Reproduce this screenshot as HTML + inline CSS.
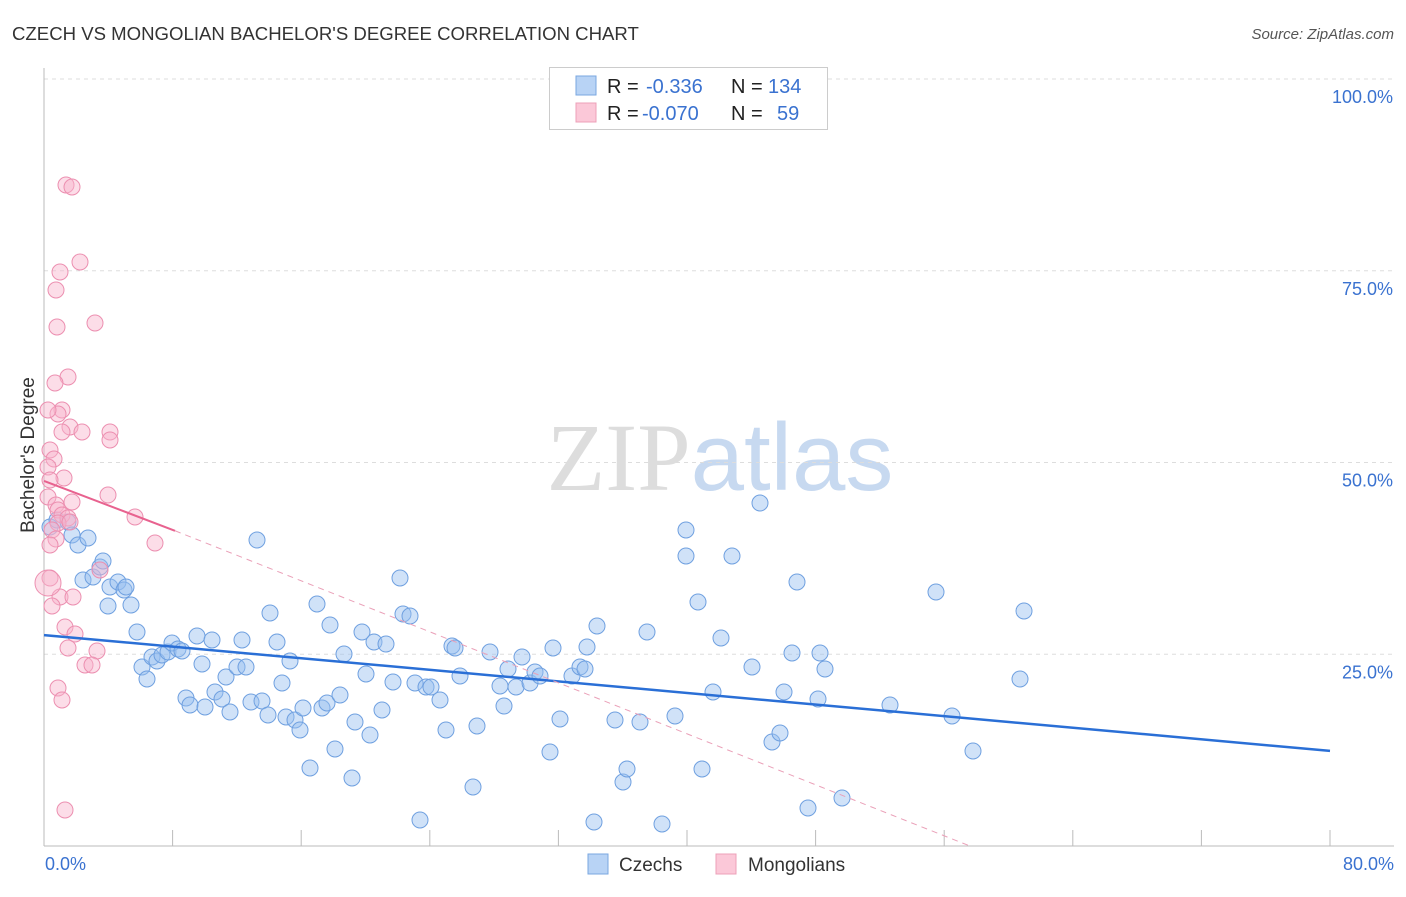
<!DOCTYPE html>
<html><head><meta charset="utf-8"><style>
body{margin:0;background:#fff;font-family:"Liberation Sans",sans-serif;}
svg text{font-family:"Liberation Sans",sans-serif;}
</style></head><body>
<svg id="chart" width="1406" height="892" xmlns="http://www.w3.org/2000/svg">
<text x="12" y="40" font-size="18.6" fill="#333">CZECH VS MONGOLIAN BACHELOR'S DEGREE CORRELATION CHART</text>
<text x="1394" y="39" font-size="15" fill="#555" text-anchor="end" font-style="italic">Source: ZipAtlas.com</text>
<text x="720" y="490" font-size="96" text-anchor="middle" fill="#ddd"><tspan style="font-family:'Liberation Serif',serif">ZIP</tspan><tspan fill="#c7d9f0">atlas</tspan></text>
<text transform="translate(34,455) rotate(-90)" font-size="19" fill="#333" text-anchor="middle">Bachelor's Degree</text>
<g id="grid"></g><g id="marks"></g>
<g>
<rect x="549.5" y="67.5" width="278" height="62" fill="#fff" stroke="#ccc"/>
<rect x="576" y="76" width="20" height="19" fill="#b8d3f5" stroke="#7aa7e0"/>
<rect x="576" y="103" width="20" height="19" fill="#fbc8d8" stroke="#eda0b8"/>
<text x="607" y="93" font-size="20" fill="#222">R = <tspan fill="#3a72d0" x="646">-0.336</tspan><tspan fill="#222" x="731">N =</tspan><tspan fill="#3a72d0" x="768">134</tspan></text>
<text x="607" y="120" font-size="20" fill="#222">R = <tspan fill="#3a72d0" x="642">-0.070</tspan><tspan fill="#222" x="731">N =</tspan><tspan fill="#3a72d0" x="777">59</tspan></text>
</g>
<g>
<rect x="588" y="854" width="20" height="20" fill="#b8d3f5" stroke="#7aa7e0"/>
<text x="619" y="871" font-size="19" fill="#333">Czechs</text>
<rect x="716" y="854" width="20" height="20" fill="#fbc8d8" stroke="#eda0b8"/>
<text x="748" y="871" font-size="19" fill="#333">Mongolians</text>
</g>
</svg>
<script>
const xTickLabels=["0.0%","80.0%"];
const yTicks=[25,50,75,100];
const yTickLabels=["25.0%","50.0%","75.0%","100.0%"];
const bluePx=[[50,527],[57,520],[68,522],[72,535],[78,545],[88,538],[83,580],[93,577],[100,567],[103,561],[110,587],[108,606],[118,582],[124,590],[126,587],[131,605],[137,632],[142,667],[147,679],[152,657],[157,661],[162,655],[168,652],[172,643],[178,649],[182,651],[186,698],[190,705],[197,636],[202,664],[205,707],[212,640],[215,692],[222,699],[226,677],[230,712],[237,667],[242,640],[246,667],[251,702],[257,540],[262,701],[268,715],[270,613],[277,642],[282,683],[286,717],[290,661],[295,720],[300,730],[303,708],[310,768],[317,604],[322,708],[327,703],[330,625],[335,749],[340,695],[344,654],[352,778],[355,722],[362,632],[366,674],[370,735],[374,642],[382,710],[386,644],[393,682],[400,578],[403,614],[410,616],[415,683],[420,820],[426,687],[431,687],[440,700],[446,730],[452,646],[455,648],[460,676],[473,787],[477,726],[490,652],[500,686],[504,706],[508,669],[516,687],[522,657],[530,683],[535,672],[540,676],[550,752],[553,648],[560,719],[572,676],[580,667],[585,669],[587,647],[594,822],[597,626],[615,720],[623,782],[627,769],[640,722],[647,632],[662,824],[675,716],[686,530],[686,556],[698,602],[702,769],[713,692],[721,638],[732,556],[752,667],[760,503],[772,742],[780,733],[784,692],[792,653],[797,582],[808,808],[818,699],[820,653],[825,669],[842,798],[890,705],[936,592],[952,716],[973,751],[1020,679],[1024,611]];
const pinkPx=[[66,185],[72,187],[80,262],[60,272],[56,290],[95,323],[57,327],[68,377],[55,383],[62,410],[58,414],[48,410],[70,427],[62,432],[82,432],[110,432],[110,440],[50,450],[54,459],[48,467],[64,478],[50,480],[108,495],[48,497],[72,502],[56,505],[58,510],[62,515],[68,518],[58,523],[135,517],[70,522],[52,530],[56,539],[155,543],[50,545],[100,570],[50,578],[60,597],[73,597],[52,606],[65,627],[75,634],[68,648],[97,651],[85,665],[92,665],[58,688],[62,700],[65,810],[48,583]];
const X0=44,X1=1330,Y0=846,Y100=79;
const toD=p=>[(p[0]-X0)/(X1-X0)*80,(Y0-p[1])/(Y0-Y100)*100];
const czechX=bluePx.map(p=>toD(p)[0]), czechY=bluePx.map(p=>toD(p)[1]);
const mongX=pinkPx.map(p=>toD(p)[0]), mongY=pinkPx.map(p=>toD(p)[1]);
const czechTrend=[27.5,12.4];
const mongTrend=[47.6,41.1,0];
const mongTrendX=[0,8.15,57.6];
const sx=v=>X0+v/80*(X1-X0), sy=v=>Y0-v/100*(Y0-Y100);
const NS="http://www.w3.org/2000/svg";
function mk(t,a,p){const e=document.createElementNS(NS,t);for(const k in a)e.setAttribute(k,a[k]);p.appendChild(e);return e;}
const g=document.getElementById('grid'), m=document.getElementById('marks');
yTicks.forEach((v,i)=>{
  const l=mk('line',{x1:44,x2:1394,y1:sy(v),y2:sy(v),stroke:'#ddd','stroke-dasharray':'4,4'},g);
  
  
  const t=mk('text',{x:1393,y:sy(v)+24,'font-size':18,fill:'#3a72d0','text-anchor':'end'},g);
  t.textContent=yTickLabels[i];
  
  
});
mk('line',{x1:44,x2:44,y1:68,y2:846,stroke:'#bbb'},g);
mk('line',{x1:44,x2:1394,y1:846,y2:846,stroke:'#bbb'},g);
for(let i=0;i<=10;i++){const x=sx(i*8);mk('line',{x1:x,x2:x,y1:830,y2:846,stroke:'#bbb'},g);}
[[0,'start',45],[80,'end',1394]].forEach((a,i)=>{
  const t=mk('text',{x:a[2],y:870,'font-size':18,fill:'#3a72d0','text-anchor':a[1]},g);
  t.textContent=xTickLabels[i];
  
  
});
czechX.forEach((x,i)=>{
  const c=mk('circle',{cx:sx(x),cy:sy(czechY[i]),r:8,fill:'rgba(150,190,240,0.45)',stroke:'#6fa0e0','stroke-width':1},m);
  
  
});
mongX.forEach((x,i)=>{
  const c=mk('circle',{cx:sx(x),cy:sy(mongY[i]),r:i==mongX.length-1?13:8,fill:'rgba(248,180,205,0.45)',stroke:'#ec8fb0','stroke-width':1},m);
  
  
});
const bl=mk('line',{x1:sx(0),y1:sy(czechTrend[0]),x2:sx(80),y2:sy(czechTrend[1]),stroke:'#2a6fd6','stroke-width':2.5},m);


const pl=mk('line',{x1:sx(mongTrendX[0]),y1:sy(mongTrend[0]),x2:sx(mongTrendX[1]),y2:sy(mongTrend[1]),stroke:'#e8628f','stroke-width':2},m);


const pd=mk('line',{x1:sx(mongTrendX[1]),y1:sy(mongTrend[1]),x2:sx(mongTrendX[2]),y2:sy(mongTrend[2]),stroke:'#eaa0b8','stroke-width':1,'stroke-dasharray':'6,5'},m);


</script>
</body></html>
